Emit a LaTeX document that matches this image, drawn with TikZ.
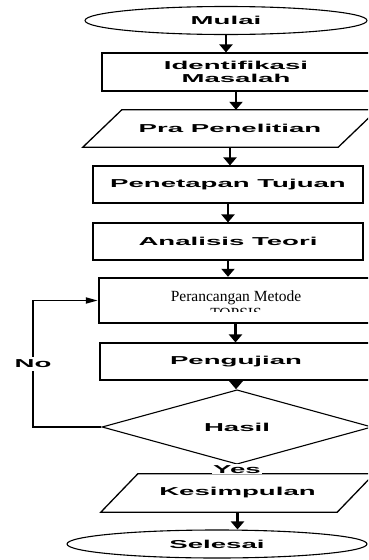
\documentclass[tikz,border=0pt]{standalone}
\usepackage{fontspec}
\setmainfont{Liberation Serif}
\newfontfamily\flowsans{Liberation Sans}
\usepackage{graphicx}
\usetikzlibrary{arrows.meta, shapes.geometric}
\newcommand{\wide}[1]{\scalebox{2.4}[1]{#1}}
% slanted outline round a named rectangle node
\newcommand{\iooutline}[2]{%
  \draw[line width=1.3pt] ([xshift=-#2]#1.south west) -- ([xshift=#2]#1.north west)
    -- ([xshift=#2]#1.north east) -- ([xshift=-#2]#1.south east) -- cycle;}
\tikzset{
  flowtext/.style={font=\flowsans\bfseries\fontsize{11.5}{13}\selectfont, align=center, inner sep=0pt},
  terminal/.style={ellipse, draw, line width=1.1pt, minimum height=28pt, flowtext},
  process/.style={rectangle, draw, line width=1.1pt, minimum height=37pt, flowtext},
  iobox/.style={rectangle, minimum height=37pt, flowtext},
  decision/.style={diamond, draw, line width=1.1pt, flowtext},
  flow/.style={line width=2.5pt, -{Triangle[width=13pt,length=8pt]}},
  thinflow/.style={line width=1.6pt, -{Triangle[width=7pt,length=6pt]}}
}
\begin{document}
\begin{tikzpicture}[x=1pt, y=-1pt]
  \useasboundingbox (0,0) rectangle (368,560);
  \clip (0,0) rectangle (368,560);
  % Shapes
  \node[terminal, minimum width=282pt] (mulai) at (226,20.5) {\wide{Mulai}};
  \node[process, minimum width=268pt, minimum height=38pt] (ident) at (236,72)
    {\wide{Identifikasi}\\[0pt]\wide{Masalah}};
  \node[iobox, minimum width=255pt] (pra) at (230,128.5) {\wide{Pra Penelitian}};
  \iooutline{pra}{19.5pt}
  \node[process, minimum width=270pt] (tujuan) at (228,184.5) {\wide{Penetapan Tujuan}};
  \node[process, minimum width=270pt] (teori) at (228,241.5) {\wide{Analisis Teori}};
  \node[rectangle, draw, line width=2.4pt, minimum width=273pt, minimum height=45pt] (metode) at (235.5,300.5) {};
  \node[anchor=base, font=\fontsize{15.5}{17}\selectfont, inner sep=0pt] (metodetext) at (236,301.7) {Perancangan Metode};
  \begin{scope}
    \clip (100,280) rectangle (370,311);
    \node[anchor=base, font=\fontsize{15.5}{17}\selectfont, inner sep=0pt] (topsis) at (236,318.5) {TOPSIS};
  \end{scope}
  \node[process, minimum width=272pt] (uji) at (236,361.5) {\wide{Pengujian}};
  \node[decision, minimum width=270pt, minimum height=56pt] (hasil) at (237,427) {\wide{Hasil}};
  \node[iobox, minimum width=236pt, minimum height=38pt] (simpul) at (237.5,493) {\wide{Kesimpulan}};
  \iooutline{simpul}{18.5pt}
  \node[terminal, minimum width=300pt] (selesai) at (217,544) {\wide{Selesai}};
  % Arrows
  \draw[flow] (mulai.south) -- (mulai.south |- ident.north);
  \draw[flow] (ident.south) -- (ident.south |- pra.north);
  \draw[flow] (pra.south) -- (pra.south |- tujuan.north);
  \draw[flow] (tujuan.south) -- (tujuan.south |- teori.north);
  \draw[flow] (teori.south) -- (teori.south |- metode.north);
  \draw[flow] (metode.south) -- (metode.south |- uji.north);
  \draw[flow] (uji.south) -- (uji.south |- hasil.north);
  \draw[flow] (simpul.south) -- (simpul.south |- selesai.north);
  \draw[thinflow] (hasil.south) -- node[flowtext, fill=white, inner sep=1pt] {\wide{Yes}} (hasil.south |- simpul.north);
  % No loop
  \coordinate (nocorner) at (33,427);
  \draw[line width=1.8pt, -{Triangle[width=6pt,length=12pt]}] (hasil.west) -- (nocorner) |- node[pos=0.25, flowtext, fill=white, inner ysep=3pt] {\wide{No}} (metode.west);
\end{tikzpicture}
\end{document}
